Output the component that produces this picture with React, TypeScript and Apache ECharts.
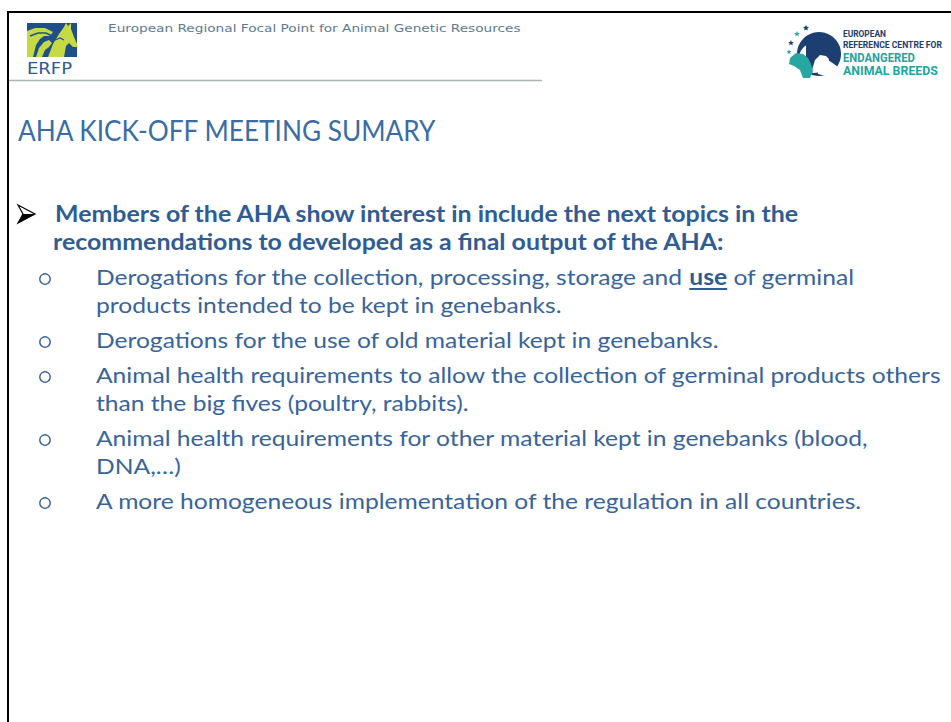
import React, { useEffect, useRef } from "react";
import * as echarts from "echarts";

const headerText = "European Regional Focal Point for Animal Genetic Resources";
const leftLogoText = "ERFP";
const rightLogoLines = ["EUROPEAN", "REFERENCE CENTRE FOR", "ENDANGERED", "ANIMAL BREEDS"];
const titleText = "AHA KICK-OFF MEETING SUMARY";
const mainBulletLines = [
  "Members of the AHA show interest in include the next topics in the",
  "recommendations to developed as a final output of the AHA:",
];
const subBullets = [
  ["Derogations for the collection, processing, storage and {u|use} of germinal", "products intended to be kept in genebanks."],
  ["Derogations for the use of old material kept in genebanks."],
  ["Animal health requirements to allow the collection of germinal products others", "than the big fives (poultry, rabbits)."],
  ["Animal health requirements for other material kept in genebanks (blood,", "DNA,…)"],
  ["A more homogeneous implementation of the regulation in all countries."],
];

const BODY_FONT = "Lato, 'Open Sans', sans-serif";
const TITLE_COLOR = "#3a6ca5";
const BODY_COLOR = "#386499";
const BOLD_COLOR = "#2f5d93";

function measure(text: string, font: string): number {
  const c = document.createElement("canvas").getContext("2d")!;
  c.font = font;
  return c.measureText(text).width;
}

function starPoints(cx: number, cy: number, R: number, r: number): number[][] {
  const pts: number[][] = [];
  for (let i = 0; i < 10; i++) {
    const a = -Math.PI / 2 + (i * Math.PI) / 5;
    const rad = i % 2 === 0 ? R : r;
    pts.push([cx + rad * Math.cos(a), cy + rad * Math.sin(a)]);
  }
  return pts;
}

export default function App() {
  const ref = useRef<HTMLDivElement>(null);
  useEffect(() => {
    if (!ref.current) return;
    const chart = echarts.init(ref.current, undefined, { renderer: "svg" });

    const regSize = 22;
    const boldSize = 22;
    const titleSize = 29;
    const regFont = `normal ${regSize}px ${BODY_FONT}`;
    const boldFont = `bold ${boldSize}px ${BODY_FONT}`;
    const sReg = 624 / measure("Derogations for the use of old material kept in genebanks.", regFont);
    const sBold = 746 / measure(mainBulletLines[0], boldFont);
    const sTitle = 419 / measure(titleText, `normal ${titleSize}px ${BODY_FONT}`);
    const sHeader = 413 / measure(headerText, `normal 10.5px 'DejaVu Sans'`);

    const els: any[] = [];
    // slide frame
    els.push({ type: "line", shape: { x1: 8, y1: 12, x2: 951, y2: 12 }, style: { stroke: "#000", lineWidth: 2 } });
    els.push({ type: "line", shape: { x1: 8, y1: 11, x2: 8, y2: 722 }, style: { stroke: "#000", lineWidth: 2 } });
    // header divider
    els.push({ type: "line", shape: { x1: 9, y1: 80.5, x2: 542, y2: 80.5 }, style: { stroke: "#a9b5b9", lineWidth: 1.5 } });

    // left logo
    els.push({ type: "rect", shape: { x: 27, y: 23, width: 50, height: 34 }, style: { fill: "#1f4f8b" } });
    els.push({
      type: "polygon",
      shape: { points: [[48, 57], [53, 44], [59, 34], [64, 27], [66, 23], [68, 26], [71, 23], [71, 29], [74, 37], [77, 44], [77, 47], [73, 47], [69, 43], [66, 46], [64, 57]] },
      style: { fill: "#c6da44" },
    });
    els.push({
      type: "polygon",
      shape: { points: [[27, 31], [35, 28], [45, 28], [53, 32], [50, 36], [44, 36], [40, 39], [36, 45], [33, 57], [27, 57]] },
      style: { fill: "#c6da44" },
    });
    els.push({
      type: "polygon",
      shape: { points: [[36, 57], [39, 48], [44, 42], [49, 40], [52, 43], [49, 47], [45, 50], [42, 57]] },
      style: { fill: "#c6da44" },
    });
    els.push({
      type: "polyline",
      shape: { points: [[30, 36], [38, 33], [46, 33], [52, 36]] },
      style: { stroke: "#1f4f8b", lineWidth: 1.5, fill: null },
    });
    els.push({
      type: "polyline",
      shape: { points: [[55, 40], [60, 38], [64, 40]] },
      style: { stroke: "#1f4f8b", lineWidth: 1.2, fill: null },
    });
    els.push({
      type: "text", x: 27, y: 69,
      style: { text: leftLogoText, fontFamily: "'DejaVu Sans', sans-serif", fontSize: 15, fill: "#2a5a8f", verticalAlign: "middle" },
      scaleX: 1.2,
    });

    // header text
    els.push({
      type: "text", x: 108, y: 29, scaleX: sHeader,
      style: { text: headerText, fontFamily: "'DejaVu Sans', sans-serif", fontSize: 10.5, fill: "#5d7a92", verticalAlign: "middle" },
    });

    // right logo
    els.push({ type: "circle", shape: { cx: 819, cy: 54, r: 22 }, style: { fill: "#1d3e70" } });
    els.push({ type: "circle", shape: { cx: 814, cy: 58, r: 15 }, style: { fill: "#ffffff" } });
    els.push({
      type: "polygon",
      shape: { points: [[806, 44], [812, 38], [820, 36], [826, 40], [830, 47], [833, 56], [830, 60], [826, 56], [820, 55], [815, 60], [812, 70], [806, 74]] },
      style: { fill: "#1d3e70" },
    });
    els.push({
      type: "polygon",
      shape: { points: [[817, 62], [822, 58], [828, 60], [834, 64], [838, 67], [834, 72], [826, 76], [818, 74]] },
      style: { fill: "#ffffff" },
    });
    els.push({
      type: "polygon",
      shape: { points: [[790, 58], [796, 53], [803, 54], [808, 58], [811, 64], [813, 71], [810, 78], [803, 78], [800, 70], [794, 66], [789, 64]] },
      style: { fill: "#27a6a2" },
    });
    [[806, 28, 3.2], [797, 34, 3], [791, 43, 3], [789, 52, 2.6]].forEach(([cx, cy, R], i) => {
      els.push({ type: "polygon", shape: { points: starPoints(cx, cy, R, R * 0.45) }, style: { fill: i % 2 ? "#27a6a2" : "#1d3e70" } });
    });
    const rlY = [34, 45, 58, 70];
    const rlSize = [9, 9, 12.5, 12.5];
    const rlColor = ["#1d3e70", "#1d3e70", "#1fa5a0", "#1fa5a0"];
    const rlW = [43, 99, 72, 95];
    rightLogoLines.forEach((t, i) => {
      const f = `bold ${rlSize[i]}px 'Liberation Sans Narrow', 'Roboto', sans-serif`;
      els.push({
        type: "text", x: 843, y: rlY[i], scaleX: rlW[i] / measure(t, f),
        style: { text: t, font: f, fill: rlColor[i], verticalAlign: "middle" },
      });
    });

    // title
    els.push({
      type: "text", x: 18, y: 130, scaleX: sTitle,
      style: { text: titleText, fontFamily: BODY_FONT, fontSize: titleSize, fill: TITLE_COLOR, verticalAlign: "middle" },
    });

    // main bullet arrowhead
    els.push({
      type: "polygon",
      shape: { points: [[18, 205], [35, 214], [18, 223], [23, 214]] },
      style: { fill: "#ffffff", stroke: "#000", lineWidth: 1.2 },
    });
    els.push({
      type: "polygon",
      shape: { points: [[23, 214], [35, 214], [18, 223]] },
      style: { fill: "#000" },
    });
    mainBulletLines.forEach((t, i) => {
      els.push({
        type: "text", x: i === 0 ? 55 : 53, y: 214 + i * 28, scaleX: sBold,
        style: { text: t, fontFamily: BODY_FONT, fontSize: boldSize, fontWeight: "bold", fill: BOLD_COLOR, verticalAlign: "middle" },
      });
    });

    // sub bullets
    let y = 277;
    subBullets.forEach((lines) => {
      els.push({
        type: "circle", shape: { cx: 45, cy: y + 2, r: 5.2 },
        style: { fill: "none", stroke: BODY_COLOR, lineWidth: 1.4 },
      });
      lines.forEach((t) => {
        els.push({
          type: "text", x: 96, y: y, scaleX: sReg,
          style: {
            text: t, fontFamily: BODY_FONT, fontSize: regSize, fill: BODY_COLOR, verticalAlign: "middle",
            rich: { u: { fontFamily: BODY_FONT, fontSize: regSize, fontWeight: "bold", fill: BOLD_COLOR } },
          },
        });
        if (t.indexOf("{u|") >= 0) {
          const pre = t.slice(0, t.indexOf("{u|"));
          const x0 = 96 + measure(pre, regFont) * sReg;
          const w = measure("use", `bold ${regSize}px ${BODY_FONT}`) * sReg;
          els.push({ type: "line", shape: { x1: x0, y1: y + 12, x2: x0 + w, y2: y + 12 }, style: { stroke: BOLD_COLOR, lineWidth: 2 } });
        }
        y += 28;
      });
      y += 7;
    });

    chart.setOption({ animation: false, backgroundColor: "#ffffff", graphic: { elements: els } });
    return () => chart.dispose();
  }, []);
  return <div ref={ref} style={{ position: "absolute", left: 0, top: 0, width: 951, height: 722 }} />;
}
